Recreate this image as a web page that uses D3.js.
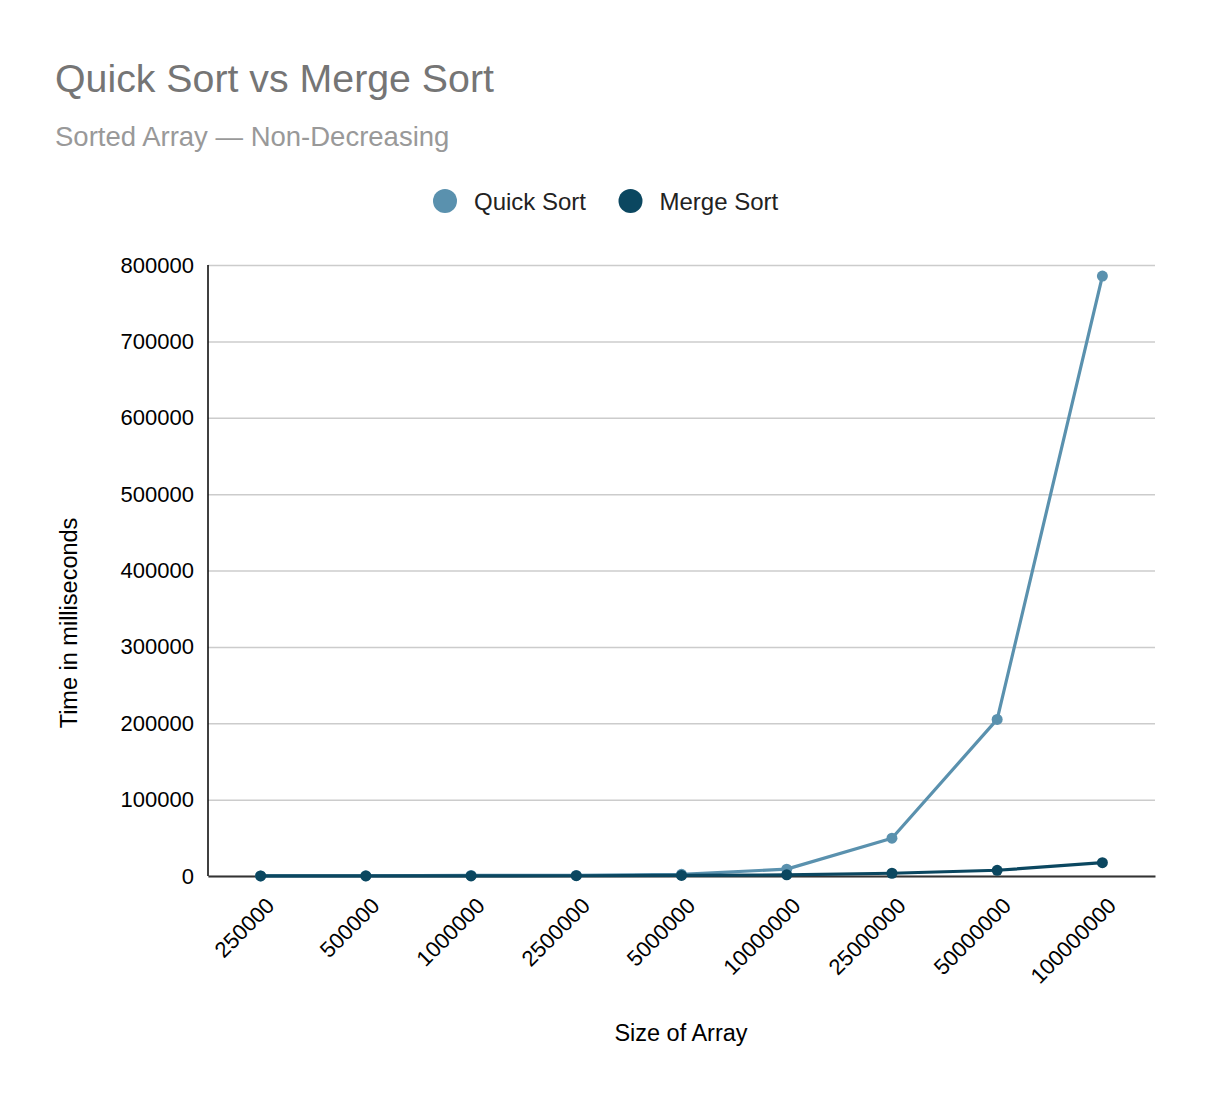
<!DOCTYPE html>
<html><head><meta charset="utf-8">
<script src="https://cdn.jsdelivr.net/npm/d3@7"></script>
<style>body{margin:0;background:#fff;font-family:Arial,"Liberation Sans",sans-serif;}</style>
</head><body><svg id="c" width="1210" height="1100"></svg>
<script>
const categories = ["250000","500000","1000000","2500000","5000000","10000000","25000000","50000000","100000000"];
const quickSort = [100, 300, 700, 700, 2200, 9000, 49500, 205000, 785500];
const mergeSort = [40, 80, 150, 350, 700, 1500, 3600, 7500, 17400];
const yTicks = [0,100000,200000,300000,400000,500000,600000,700000,800000];
const seriesNames = ["Quick Sort","Merge Sort"];
const colors = ["#5a91ae","#0b4760"];

const FF = "Arial,'Liberation Sans',sans-serif";
const svg = d3.select("#c");
const L=208, R=1155, T=265, B=876;
const x = d3.scaleBand().domain(categories).range([L,R]);
const y = d3.scaleLinear().domain([0,800000]).range([B,T]);

svg.append("rect").attr("width",1210).attr("height",1100).attr("fill","#fff");
svg.append("text").attr("x",55).attr("y",92).attr("font-size",39.3).attr("fill","#757575").text("Quick Sort vs Merge Sort");
svg.append("text").attr("x",55).attr("y",146).attr("font-size",27.5).attr("fill","#999").text("Sorted Array — Non-Decreasing");

// legend
const legX = [445, 630.5];
seriesNames.forEach((n,i)=>{
  svg.append("circle").attr("cx",legX[i]).attr("cy",201).attr("r",12).attr("fill",colors[i]);
  svg.append("text").attr("x",legX[i]+29).attr("y",210).attr("font-size",24).attr("fill","#222").text(n);
});

// grid
const ga = svg.append("g").attr("transform",`translate(${L},0)`)
  .call(d3.axisLeft(y).tickValues(yTicks).tickSize(-(R-L)).tickFormat(d3.format("d")));
ga.select(".domain").remove();
ga.selectAll(".tick line").attr("stroke","#ccc").attr("stroke-width",1.5);
ga.selectAll(".tick text").attr("x",-14).attr("font-size",22).attr("fill","#000").attr("font-family",FF);
svg.append("line").attr("x1",L).attr("x2",L).attr("y1",T).attr("y2",B).attr("stroke","#000").attr("stroke-width",1.5);

// x axis
const xa = svg.append("g").attr("transform",`translate(0,${B})`).call(d3.axisBottom(x).tickSize(0));
xa.select(".domain").attr("stroke","#333").attr("stroke-width",2);
xa.selectAll(".tick text").attr("font-size",22).attr("fill","#000").attr("font-family",FF)
  .attr("text-anchor","end").attr("dy",0).attr("transform","translate(13,29) rotate(-45)");

svg.append("text").attr("x",681).attr("y",1041).attr("text-anchor","middle").attr("font-size",23.5).attr("fill","#000").text("Size of Array");
svg.append("text").attr("transform","translate(77,623) rotate(-90)").attr("text-anchor","middle").attr("font-size",23.5).attr("fill","#000").text("Time in milliseconds");

const line = d3.line().x((d,i)=>x(categories[i])+x.bandwidth()/2).y(d=>y(d));
[quickSort, mergeSort].forEach((s,k)=>{
  svg.append("path").datum(s).attr("d",line).attr("fill","none").attr("stroke",colors[k]).attr("stroke-width",3.2).attr("stroke-linejoin","round");
  svg.selectAll(null).data(s).enter().append("circle")
    .attr("cx",(d,i)=>x(categories[i])+x.bandwidth()/2).attr("cy",d=>y(d)).attr("r",5.5).attr("fill",colors[k]);
});
</script></body></html>
